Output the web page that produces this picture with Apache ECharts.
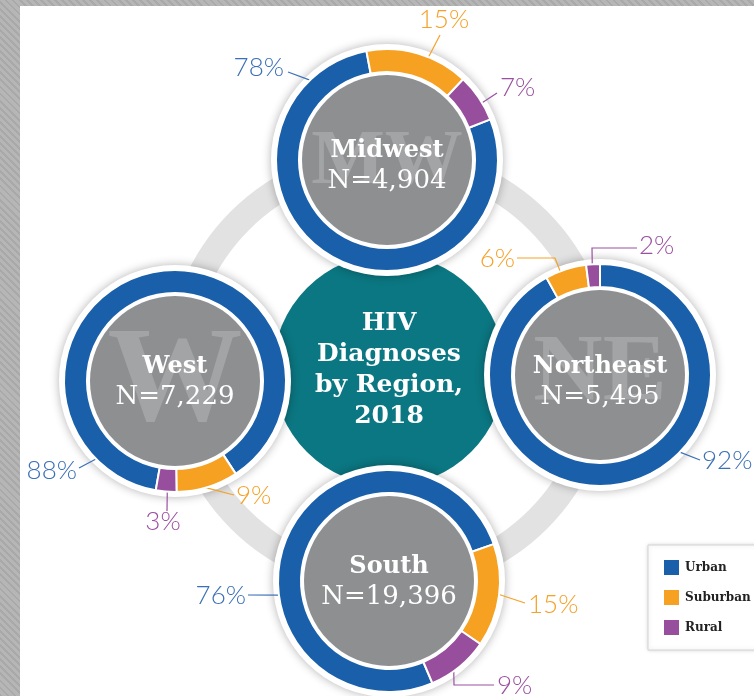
<!DOCTYPE html>
<html lang="en">
<head>
<meta charset="UTF-8">
<title>HIV Diagnoses by Region, 2018</title>
<script src="https://cdnjs.cloudflare.com/ajax/libs/echarts/6.0.0/echarts.min.js"></script>
<style>
    body {
        margin: 0;
        width: 754px;
        height: 696px;
        overflow: hidden;
        background: repeating-linear-gradient(45deg, #a9a9a9 0 2px, #b6b6b6 2px 5px);
    }

    .card {
        position: absolute;
        left: 20px;
        top: 6px;
        right: 0;
        bottom: 0;
        background: #fff;
    }

    #main {
        position: absolute;
        left: 0;
        top: 0;
        width: 754px;
        height: 696px;
    }
</style>
</head>
<body>
<div class="card"></div>
<div id="main"></div>
<script>
    // ---- data ----
    const categories = ['Urban', 'Suburban', 'Rural'];
    const regions = ['Midwest', 'Northeast', 'West', 'South'];
    const regionN = ['4,904', '5,495', '7,229', '19,396'];
    const regionLetters = ['MW', 'NE', 'W', ''];
    const midwest = [78, 15, 7];
    const northeast = [92, 6, 2];
    const west = [88, 9, 3];
    const south = [76, 15, 9];
    const shares = [midwest, northeast, west, south];
    const chartTitle = 'HIV\nDiagnoses\nby Region,\n2018';

    // ---- layout / style ----
    const sliceColors = ['#1a5faa', '#f6a121', '#974e9c'];
    const labelColors = ['#3b6fb6', '#f5a128', '#9a50a0'];
    const hubCenter = [389, 370];
    const centers = [[387, 160], [600, 375], [175, 381], [389, 581]];
    const startAngles = [21.5, 90, -100, -67];
    const nameDy = [-9, -8, -14, -14];
    const letterDy = [3, 0, 4, 0];
    const letterSize = [78, 96, 135, 96];
    const ringInner = 88, ringOuter = 111;
    // [angle on ring from 12 o'clock, elbow dx, dy, end dx, dy, text dx, dy, align]
    const leaders = [
        [[-44, -99, -88, -99, -88, -103, -92, 'right'],
         [22, 53, -125, 53, -125, 57, -140, 'center'],
         [59, 110, -67, 110, -67, 113, -72, 'left']],
        [[134, 100, 85, 100, 85, 102, 86, 'left'],
         [-21, -45, -117, -83, -117, -85, -116, 'right'],
         [-4, -8, -127, 37, -127, 39, -129, 'left']],
        [[225.4, -96, 87, -96, 87, -98, 90, 'right'],
         [164, 59, 114, 59, 114, 61, 115, 'left'],
         [184, -8, 130, -8, 130, -12, 141, 'center']],
        [[262.7, -141, 14, -141, 14, -143, 15, 'right'],
         [97, 136, 22, 136, 22, 139, 24, 'left'],
         [144.3, 65, 104, 105, 104, 108, 105, 'left']]
    ];

    const chart = echarts.init(document.getElementById('main'));

    function makeLayout(r) {
        return function (params) {
            const s = leaders[r][params.dataIndex];
            const c = centers[r];
            const a = s[0] * Math.PI / 180;
            const start = [c[0] + ringOuter * Math.sin(a), c[1] - ringOuter * Math.cos(a)];
            return {
                x: c[0] + s[5],
                y: c[1] + s[6],
                align: s[7],
                verticalAlign: 'middle',
                labelLinePoints: [start, [c[0] + s[1], c[1] + s[2]], [c[0] + s[3], c[1] + s[4]]]
            };
        };
    }

    function plainPie(z, center, radius, itemStyle, label) {
        return {
            type: 'pie',
            silent: true,
            z: z,
            center: center,
            radius: radius,
            itemStyle: itemStyle,
            label: label || { show: false },
            labelLine: { show: false },
            emphasis: { disabled: true },
            data: [{ value: 1, name: '' }]
        };
    }

    const series = [];
    const graphics = [];
    // grey connecting ring
    series.push(plainPie(1, hubCenter, [198, 224], { color: '#e2e2e2' }));
    // teal hub with title
    series.push(plainPie(2, hubCenter, [0, 116], { color: '#0b7782' }, {
        show: true,
        position: 'center',
        formatter: chartTitle,
        color: '#fff',
        fontFamily: 'DejaVu Serif',
        fontWeight: 'bold',
        fontSize: 25,
        lineHeight: 31
    }));

    regions.forEach((name, r) => {
        const c = centers[r];
        series.push(plainPie(3, c, [0, 116], {
            color: '#fff', shadowBlur: 10, shadowColor: 'rgba(0,0,0,0.3)'
        }));
        series.push(plainPie(4, c, [0, 85], { color: '#8e8f91' }));
        series.push({
            type: 'pie',
            name: name,
            z: 5,
            silent: true,
            center: c,
            radius: [ringInner, ringOuter],
            startAngle: startAngles[r],
            clockwise: true,
            avoidLabelOverlap: false,
            itemStyle: { borderColor: '#fff', borderWidth: 2 },
            label: {
                show: true,
                formatter: '{c}%',
                fontFamily: 'Lato',
                fontWeight: 300,
                fontSize: 26
            },
            labelLine: { show: true, lineStyle: { width: 1.2 } },
            labelLayout: makeLayout(r),
            emphasis: { disabled: true },
            data: categories.map((cat, i) => ({
                name: cat,
                value: shares[r][i],
                itemStyle: { color: sliceColors[i] },
                label: { color: labelColors[i] },
                labelLine: { lineStyle: { color: labelColors[i] } }
            }))
        });

        // big faint region letters behind the name
        graphics.push({
            type: 'text',
            x: c[0],
            y: c[1] + letterDy[r],
            z: 20,
            silent: true,
            style: {
                text: regionLetters[r],
                fill: '#a3a4a6',
                font: 'bold ' + letterSize[r] + 'px "Liberation Serif"',
                align: 'center',
                verticalAlign: 'middle'
            }
        });
        graphics.push({
            type: 'text',
            x: c[0],
            y: c[1] + nameDy[r],
            z: 21,
            silent: true,
            style: {
                text: name,
                fill: '#fff',
                font: 'bold 24px "DejaVu Serif"',
                align: 'center',
                verticalAlign: 'middle'
            }
        });
        graphics.push({
            type: 'text',
            x: c[0],
            y: c[1] + nameDy[r] + 30,
            z: 21,
            silent: true,
            style: {
                text: 'N=' + regionN[r],
                fill: '#fff',
                font: '26px "DejaVu Serif"',
                align: 'center',
                verticalAlign: 'middle'
            }
        });
    });

    chart.setOption({
        animation: false,
        legend: {
            data: categories,
            orient: 'vertical',
            left: 648,
            top: 545,
            itemWidth: 17,
            itemHeight: 17,
            itemGap: 11,
            icon: 'rect',
            selectedMode: false,
            padding: [13, 24, 13, 14],
            borderColor: '#d4d4d4',
            borderWidth: 1,
            backgroundColor: '#fff',
            shadowBlur: 4,
            shadowColor: 'rgba(0,0,0,0.15)',
            textStyle: { fontFamily: 'DejaVu Serif', fontWeight: 'bold', fontSize: 12, color: '#222' }
        },
        graphic: graphics,
        series: series
    });
</script>
</body>
</html>
